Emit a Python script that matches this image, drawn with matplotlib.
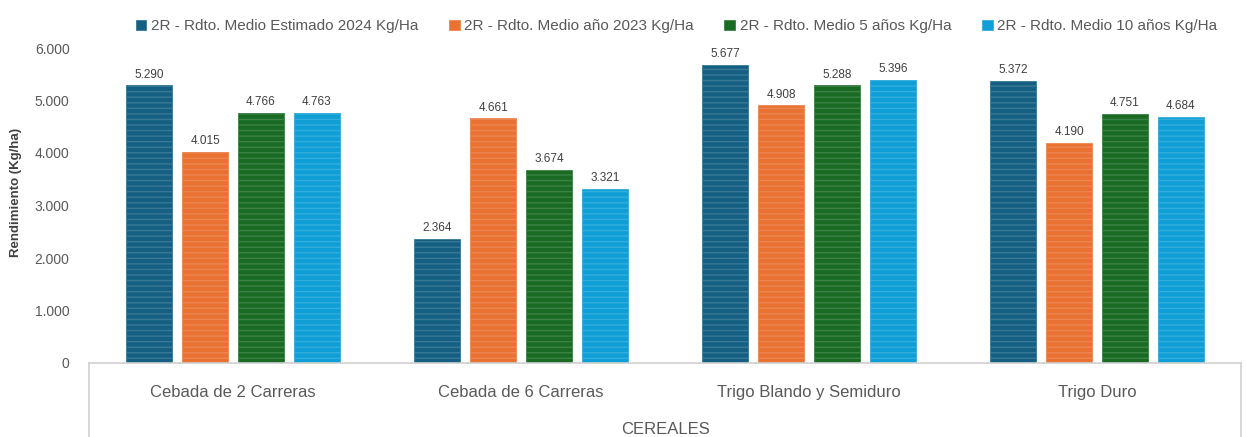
import numpy as np
import matplotlib
matplotlib.use("Agg")
import matplotlib.pyplot as plt
from matplotlib.lines import Line2D
from matplotlib.colors import to_rgb

categorias = ["Cebada de 2 Carreras", "Cebada de 6 Carreras", "Trigo Blando y Semiduro", "Trigo Duro"]
series = [
    "2R - Rdto. Medio Estimado 2024 Kg/Ha",
    "2R - Rdto. Medio año 2023 Kg/Ha",
    "2R - Rdto. Medio 5 años Kg/Ha",
    "2R - Rdto. Medio 10 años Kg/Ha",
]
est_2024 = [5290, 2364, 5677, 5372]
anio_2023 = [4015, 4661, 4908, 4190]
medio_5 = [4766, 3674, 5288, 4751]
medio_10 = [4763, 3321, 5396, 4684]
valores = [est_2024, anio_2023, medio_5, medio_10]
colores = ["#156082", "#E97132", "#196B24", "#0F9ED5"]

gris = "#595959"
plt.rcParams["font.family"] = ["Liberation Sans", "DejaVu Sans"]
plt.rcParams["hatch.linewidth"] = 1.0


def aclarar(c, f=0.15):
    r, g, b = to_rgb(c)
    return (r + (1 - r) * f, g + (1 - g) * f, b + (1 - b) * f)


def fmt(v):
    return f"{v:,}".replace(",", ".")


W, H = 1247, 437
fig = plt.figure(figsize=(W / 100, H / 100), dpi=100)
ax = fig.add_axes([89 / W, 74 / H, (1241 - 89) / W, (363 - 48) / H])

x = np.arange(len(categorias))
ancho = 0.16
paso = 0.194
for i, (vals, col) in enumerate(zip(valores, colores)):
    pos = x + (i - 1.5) * paso
    bars = ax.bar(pos, vals, ancho, color=col, edgecolor=aclarar(col), linewidth=0.6,
                  hatch="---", label=series[i])
    for b, v in zip(bars, vals):
        ax.text(b.get_x() + b.get_width() / 2, v + 90, fmt(v), ha="center", va="bottom",
                fontsize=8.5, color="#404040")

ax.set_xlim(-0.5, 3.5)
ax.set_ylim(0, 6000)
ax.set_yticks(np.arange(0, 6001, 1000))
ax.set_yticklabels([fmt(v) for v in range(0, 6001, 1000)], fontsize=10, color=gris)
ax.set_xticks(x)
ax.set_xticklabels(categorias, fontsize=12, color=gris)
ax.tick_params(axis="y", length=0, pad=14)
ax.tick_params(axis="x", length=0, pad=16)
for s in ["top", "right", "left"]:
    ax.spines[s].set_visible(False)
ax.spines["bottom"].set_color("#d0d0d0")
ax.spines["bottom"].set_linewidth(1.2)

ax.set_ylabel("Rendimiento (Kg/ha)", fontsize=9.5, fontweight="bold", color="#404040")
ax.yaxis.set_label_coords(-0.058, 0.54)

# lineas del recuadro de categorias
for xp in [89 / W, 1241 / W]:
    fig.add_artist(Line2D([xp, xp], [0, 74 / H], color="#d0d0d0", lw=1.2))

fig.text((89 + 1241) / 2 / W, 8 / H, "CEREALES", ha="center", va="center", fontsize=12, color=gris)

ax.legend(loc="upper center", bbox_to_anchor=(0.51, 1.11), ncol=4, frameon=False,
          fontsize=11, labelcolor=gris, handlelength=0.7, handleheight=0.7,
          handletextpad=0.3, columnspacing=2.0, borderaxespad=0)
leg = ax.get_legend()
for h in leg.legend_handles:
    h.set_hatch(None)

fig.savefig("out.png", dpi=100)
